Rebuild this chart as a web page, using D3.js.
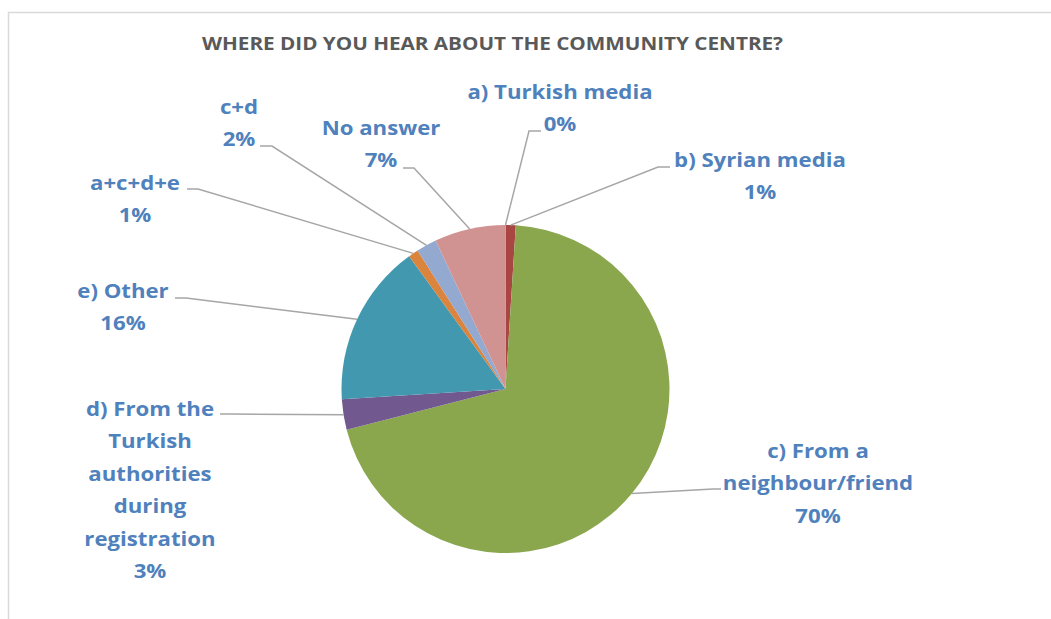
<!DOCTYPE html>
<html>
<head>
<meta charset="utf-8">
<script src="https://cdn.jsdelivr.net/npm/d3@7"></script>
<style>
  html, body { margin: 0; padding: 0; background: #fff; }
  svg { display: block; }
</style>
</head>
<body>
<svg id="chart" width="1051" height="619"></svg>
<script>
// Survey answers: where respondents heard about the community centre
const categories = [
  "a) Turkish media",
  "b) Syrian media",
  "c) From a neighbour/friend",
  "d) From the Turkish authorities during registration",
  "e) Other",
  "a+c+d+e",
  "c+d",
  "No answer"
];
const percentValues = [0, 1, 70, 3, 16, 1, 2, 7];
const percentLabels = ["0%", "1%", "70%", "3%", "16%", "1%", "2%", "7%"];
const sliceColors = ["#4F81BD", "#A94643", "#8AA74E", "#71588F", "#4198AF", "#DB843D", "#93A9CF", "#D19392"];

// Wrapped label lines for each slice
const labelLines = [
  ["a) Turkish media"],
  ["b) Syrian media"],
  ["c) From a", "neighbour/friend"],
  ["d) From the", "Turkish", "authorities", "during", "registration"],
  ["e) Other"],
  ["a+c+d+e"],
  ["c+d"],
  ["No answer"]
];

// Label placement: centre x, first baseline, leader-line anchor and elbow
const labelLayout = [
  { cx: 560, y: 99,  ax: 541, ay: 131, ex: 529, ey: 131 },
  { cx: 760, y: 167, ax: 670, ay: 167, ex: 658, ey: 167 },
  { cx: 818, y: 458, ax: 721, ay: 489, ex: 713, ey: 489 },
  { cx: 150, y: 416, ax: 220, ay: 414, ex: 231, ey: 414 },
  { cx: 123, y: 298, ax: 175, ay: 298, ex: 186, ey: 298 },
  { cx: 135, y: 190, ax: 187, ay: 189, ex: 198, ey: 189 },
  { cx: 239, y: 114, ax: 260, ay: 146, ex: 272, ey: 146 },
  { cx: 381, y: 135, ax: 403, ay: 168, ex: 414, ey: 168 }
];

const W = 1051, H = 619;
const cx = 505.5, cy = 389, radius = 164;
const lineGap = 32.4;
const fontFamily = "'Open Sans', Lato, sans-serif";
const titleStretch = 1.15, labelStretch = 1.11;

// widen text horizontally about its centre line
const stretchAbout = (x, s) => `translate(${x},0) scale(${s},1) translate(${-x},0)`;

const svg = d3.select("#chart");

// chart area frame (runs off the right and bottom edges)
svg.append("rect")
  .attr("x", 8.5).attr("y", 12.5)
  .attr("width", W + 20).attr("height", H + 20)
  .attr("fill", "#fff")
  .attr("stroke", "#D9D9D9").attr("stroke-width", 1.5);

svg.append("text")
  .attr("x", 492.5).attr("y", 50)
  .attr("transform", stretchAbout(492.5, titleStretch))
  .attr("text-anchor", "middle")
  .attr("font-family", fontFamily)
  .attr("font-weight", 700)
  .attr("font-size", 18)
  .attr("fill", "#595959")
  .text("WHERE DID YOU HEAR ABOUT THE COMMUNITY CENTRE?");

const data = categories.map((c, i) => ({
  name: c, value: percentValues[i], label: percentLabels[i],
  color: sliceColors[i], lines: labelLines[i], layout: labelLayout[i]
}));

const pie = d3.pie().sort(null).value(d => d.value);
const arcs = pie(data);
const arc = d3.arc().innerRadius(0).outerRadius(radius);

const g = svg.append("g").attr("transform", `translate(${cx},${cy})`);

g.selectAll("path.slice")
  .data(arcs)
  .join("path")
  .attr("class", "slice")
  .attr("d", arc)
  .attr("fill", d => d.data.color);

// leader lines: from the label, a short horizontal run, then to the slice edge
const edgePoint = d => {
  const a = (d.startAngle + d.endAngle) / 2;
  return [cx + radius * Math.sin(a), cy - radius * Math.cos(a)];
};

svg.selectAll("polyline.leader")
  .data(arcs)
  .join("polyline")
  .attr("class", "leader")
  .attr("points", d => {
    const L = d.data.layout;
    const p = edgePoint(d);
    return [[L.ax, L.ay], [L.ex, L.ey], p].map(q => q.join(",")).join(" ");
  })
  .attr("fill", "none")
  .attr("stroke", "#A6A6A6")
  .attr("stroke-width", 1.5);

const labels = svg.selectAll("text.lbl")
  .data(arcs)
  .join("text")
  .attr("class", "lbl")
  .attr("transform", d => stretchAbout(d.data.layout.cx, labelStretch))
  .attr("text-anchor", "middle")
  .attr("font-family", fontFamily)
  .attr("font-weight", 700)
  .attr("font-size", 20)
  .attr("fill", "#4F81BD");

labels.each(function(d) {
  const t = d3.select(this);
  const L = d.data.layout;
  const lines = d.data.lines.concat([d.data.label]);
  lines.forEach((s, i) => {
    t.append("tspan")
      .attr("x", L.cx)
      .attr("y", L.y + i * lineGap)
      .text(s);
  });
});
</script>
</body>
</html>
